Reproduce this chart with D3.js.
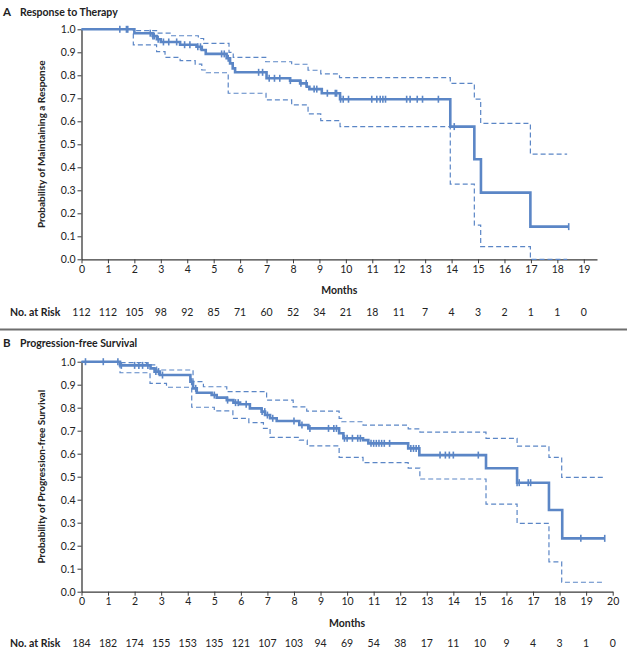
<!DOCTYPE html>
<html>
<head>
<meta charset="utf-8">
<script src="https://cdn.jsdelivr.net/npm/d3@7"></script>
<style>
  body { margin: 0; background: #fff; }
  svg { display: block; font-family: "Lato", "Open Sans", sans-serif; }
</style>
</head>
<body>
<svg id="chart" width="627" height="657"></svg>
<script>
/////////////////////////////////
// DATA
//////////////////////////////////

// Panel A - response to therapy, [month, probability] steps
var respEst = [[0,1.0],[2.0,0.983],[2.69,0.971],[2.85,0.957],[3.0,0.945],[3.73,0.933],[4.35,0.924],[4.55,0.91],[4.7,0.893],[5.49,0.874],[5.62,0.852],[5.72,0.83],[5.81,0.813],[7.0,0.787],[7.89,0.777],[8.27,0.765],[8.52,0.75],[8.62,0.74],[9.09,0.722],[9.78,0.696],[13.95,0.577],[14.86,0.435],[15.11,0.29],[16.98,0.142],[18.43,0.142]];
var respUpper = [[0,1.0],[1.96,0.994],[2.84,0.983],[3.35,0.972],[4.42,0.96],[4.62,0.939],[5.58,0.9],[5.74,0.878],[6.97,0.859],[7.95,0.848],[8.57,0.822],[9.05,0.806],[9.76,0.79],[13.95,0.765],[14.86,0.696],[15.1,0.591],[16.98,0.457],[18.37,0.457]];
var respLower = [[0,1.0],[1.96,0.932],[2.84,0.903],[3.16,0.878],[3.73,0.864],[4.3,0.849],[4.55,0.823],[4.72,0.811],[5.55,0.722],[6.98,0.693],[7.95,0.671],[8.57,0.632],[9.05,0.603],[9.78,0.577],[13.95,0.327],[14.86,0.149],[15.1,0.055],[16.98,0.0],[18.37,0.0]];
var respCensored = [1.45,1.7,1.75,2.6,2.7,2.75,2.9,3.1,3.3,3.6,3.9,4.1,4.4,4.5,5.3,5.4,5.55,6.7,6.85,7.1,7.3,7.5,7.9,8.3,8.5,8.8,8.9,9.3,9.6,9.65,9.8,9.9,10.1,10.98,11.17,11.3,11.4,11.5,12.3,12.43,12.7,12.9,13.5,14.1,18.43];
var respAtRisk = [112,112,105,98,92,85,71,60,52,34,21,18,11,7,4,3,2,1,1,0];

// Panel B - progression-free survival
var pfsEst = [[0,1.0],[1.45,0.984],[2.6,0.971],[2.75,0.957],[2.95,0.942],[4.1,0.913],[4.2,0.884],[4.34,0.865],[4.9,0.855],[5.09,0.844],[5.47,0.833],[5.72,0.822],[5.97,0.815],[6.34,0.797],[6.78,0.783],[6.91,0.768],[7.1,0.754],[7.35,0.742],[8.2,0.725],[8.54,0.71],[9.7,0.689],[9.86,0.667],[10.6,0.659],[10.8,0.645],[12.3,0.623],[12.72,0.594],[15.23,0.537],[16.4,0.474],[17.6,0.355],[18.1,0.232],[19.7,0.232]];
var pfsUpper = [[0,1.0],[1.45,0.996],[2.45,0.986],[2.83,0.964],[4.2,0.913],[4.59,0.891],[5.47,0.87],[6.97,0.833],[7.97,0.804],[8.48,0.785],[9.7,0.754],[9.8,0.739],[10.6,0.724],[12.3,0.708],[12.74,0.694],[15.23,0.667],[16.4,0.633],[17.6,0.584],[18.08,0.497],[19.7,0.497]];
var pfsLower = [[0,1.0],[1.45,0.952],[2.58,0.906],[3.2,0.889],[4.15,0.802],[5.0,0.786],[5.7,0.754],[6.3,0.735],[6.85,0.71],[7.1,0.671],[8.2,0.659],[8.5,0.634],[9.7,0.584],[10.6,0.561],[12.3,0.537],[12.74,0.49],[15.23,0.381],[16.4,0.297],[17.6,0.13],[18.08,0.041],[19.7,0.041]];
var pfsCensored = [0.15,0.82,1.37,1.5,2.0,2.16,2.3,2.5,2.8,2.9,3.05,4.15,4.3,5.0,5.5,5.8,5.9,6.2,6.8,6.9,7.0,7.2,8.0,8.3,8.6,9.3,9.5,9.6,9.9,10.0,10.2,10.4,10.5,10.9,11.0,11.1,11.2,11.3,11.4,11.6,12.4,12.5,12.6,12.7,13.5,13.7,13.85,14.0,14.94,16.4,16.48,16.82,16.91,18.8,19.7];
var pfsAtRisk = [184,182,174,155,153,135,121,107,103,94,69,54,38,17,11,10,9,4,3,1,0];

var yTicks = [0,0.1,0.2,0.3,0.4,0.5,0.6,0.7,0.8,0.9,1.0];

/////////////////////////////////
// SETUP
//////////////////////////////////

var blue = "#5b86c6";
var axisColor = "#3a3a3a";
var svg = d3.select("#chart");

// separator between the two panels
svg.append("line")
    .attr("x1", 0).attr("x2", 627)
    .attr("y1", 329.5).attr("y2", 329.5)
    .attr("stroke", "#6e6e6e")
    .attr("stroke-width", 2);

var panels = [
    { letter: "A", title: "Response to Therapy", ylab: "Probability of Maintaining a Response",
      est: respEst, upper: respUpper, lower: respLower, cens: respCensored, risk: respAtRisk,
      xMax: 19.5, xRight: 597, top: 29.3, bottom: 259.3, titleY: 15.5, riskY: 316 },
    { letter: "B", title: "Progression-free Survival", ylab: "Probability of Progression-free Survival",
      est: pfsEst, upper: pfsUpper, lower: pfsLower, cens: pfsCensored, risk: pfsAtRisk,
      xMax: 20, xRight: 612.7, top: 361.7, bottom: 591.7, titleY: 347, riskY: 647 }
];

function stepValue(steps, t) {
    var v = steps[0][1];
    steps.forEach(function(s) { if (s[0] <= t) v = s[1]; });
    return v;
}

panels.forEach(function(p) {
    var g = svg.append("g");
    var x = d3.scaleLinear().domain([0, p.xMax]).range([81.5, p.xRight]);
    var y = d3.scaleLinear().domain([0, 1]).range([p.bottom, p.top]);

    // titles
    g.append("text").attr("x", 3).attr("y", p.titleY)
        .attr("font-size", 11.5).attr("font-weight", "bold").attr("fill", "#222")
        .text(p.letter);
    g.append("text").attr("x", 20).attr("y", p.titleY)
        .attr("font-size", 10.5).attr("font-weight", "bold").attr("fill", "#222")
        .text(p.title);

    // axes
    var yAxis = g.append("g")
        .attr("transform", "translate(81.5,0)")
        .call(d3.axisLeft(y).tickValues(yTicks).tickFormat(d3.format(".1f")).tickSize(4).tickSizeOuter(0).tickPadding(2));
    var xAxis = g.append("g")
        .attr("transform", "translate(0," + p.bottom + ")")
        .call(d3.axisBottom(x).tickValues(d3.range(0, Math.floor(p.xMax) + 1)).tickSize(4).tickSizeOuter(0).tickPadding(2));
    [yAxis, xAxis].forEach(function(a) {
        a.select(".domain").attr("stroke", axisColor).attr("stroke-width", 1.3);
        a.selectAll(".tick line").attr("stroke", axisColor).attr("stroke-width", 1);
        a.selectAll(".tick text").attr("fill", "#222").attr("font-size", 10.5)
            .attr("font-family", "Lato, sans-serif");
    });

    g.append("text")
        .attr("transform", "translate(45," + ((p.top + p.bottom) / 2) + ") rotate(-90)")
        .attr("text-anchor", "middle")
        .attr("font-size", 10).attr("font-weight", "bold").attr("fill", "#222")
        .text(p.ylab);

    g.append("text")
        .attr("x", (x(0) + x(p.xMax)) / 2).attr("y", p.bottom + 35)
        .attr("text-anchor", "middle")
        .attr("font-size", 10.5).attr("font-weight", "bold").attr("fill", "#222")
        .text("Months");

    // curves
    var line = d3.line()
        .x(function(d) { return x(d[0]); })
        .y(function(d) { return y(d[1]); })
        .curve(d3.curveStepAfter);

    [p.upper, p.lower].forEach(function(ci) {
        g.append("path").datum(ci)
            .attr("d", line)
            .attr("fill", "none")
            .attr("stroke", blue)
            .attr("stroke-width", 1.2)
            .attr("stroke-dasharray", "5,3");
    });

    g.append("path").datum(p.est)
        .attr("d", line)
        .attr("fill", "none")
        .attr("stroke", blue)
        .attr("stroke-width", 2.6);

    g.selectAll(".cens").data(p.cens).enter().append("line")
        .attr("x1", function(d) { return x(d); })
        .attr("x2", function(d) { return x(d); })
        .attr("y1", function(d) { return y(stepValue(p.est, d)) - 3.5; })
        .attr("y2", function(d) { return y(stepValue(p.est, d)) + 3.5; })
        .attr("stroke", blue)
        .attr("stroke-width", 1.6);

    // numbers at risk
    g.append("text").attr("x", 10).attr("y", p.riskY)
        .attr("font-size", 10.5).attr("font-weight", "bold").attr("fill", "#222")
        .text("No. at Risk");
    g.selectAll(".risk").data(p.risk).enter().append("text")
        .attr("x", function(d, i) { return x(i); })
        .attr("y", p.riskY)
        .attr("text-anchor", "middle")
        .attr("font-size", 10.5).attr("fill", "#222")
        .text(function(d) { return d; });
});
</script>
</body>
</html>
